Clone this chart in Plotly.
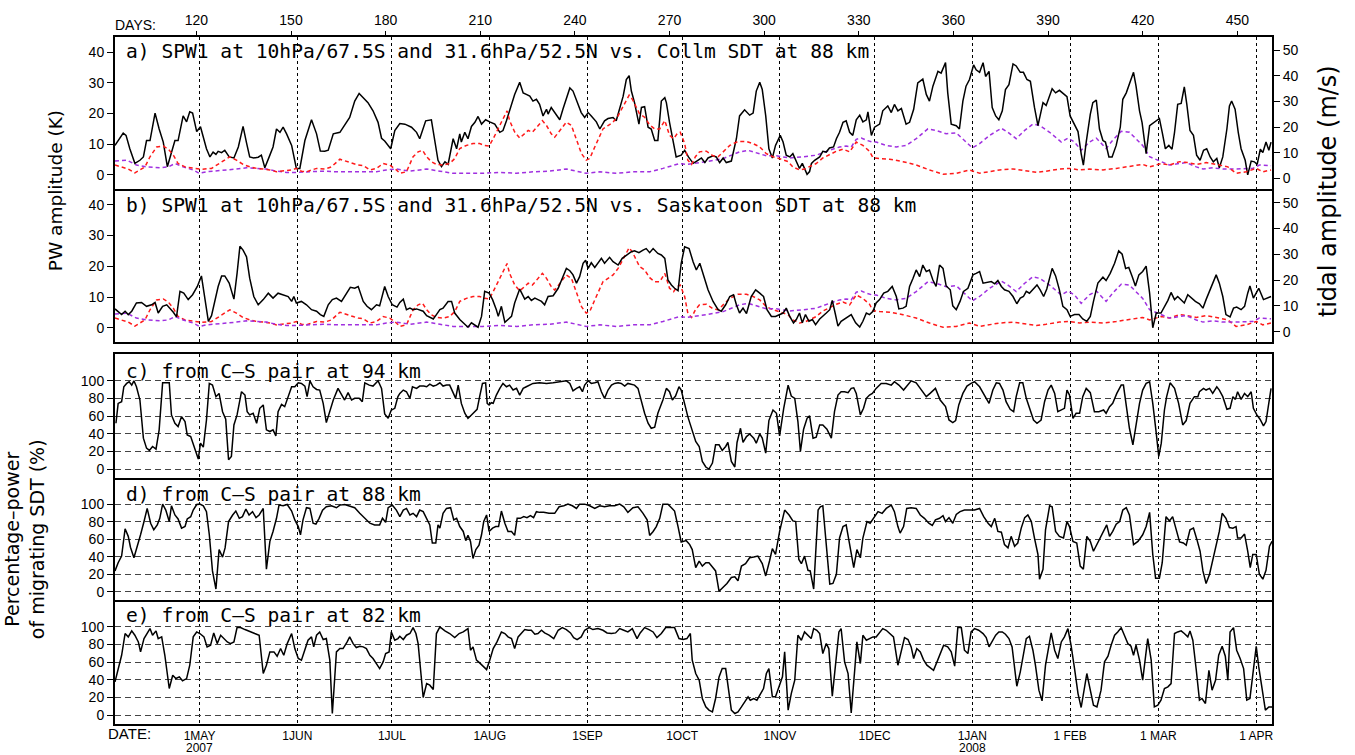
import plotly.graph_objects as go

# ---------------- data ----------------
month_days = [121, 152, 182, 213, 244, 274, 305, 335, 366, 397, 425, 456]
month_labels = ["1MAY", "1JUN", "1JUL", "1AUG", "1SEP", "1OCT", "1NOV", "1DEC",
                "1JAN", "1 FEB", "1 MAR", "1 APR"]
year_labels = [(121, "2007"), (366, "2008")]
day_ticks = [120, 150, 180, 210, 240, 270, 300, 330, 360, 390, 420, 450]
pct_ticks = [0, 20, 40, 60, 80, 100]
pw_ticks = [0, 10, 20, 30, 40]
tide_ticks = [0, 10, 20, 30, 40, 50]

# Collm SDT amplitude at 88 km (m/s), panel a
collm_sdt = [
    (94.2, 12.9), (96.8, 17.7), (97.7, 16.8), (98.9, 11.6), (100.5, 5.9), (102.1, 7.1), (103.2, 8.4),
    (104.2, 14.8), (105.3, 14.8), (106.9, 25.5), (108.2, 19.3), (109.5, 14.2), (110.8, 4.6), (112.1, 9.7),
    (113.2, 14.8), (114.2, 14.8), (115.8, 24.4), (116.9, 22.1), (117.9, 26.0), (118.8, 25.5), (120.1, 18.3),
    (121.3, 20.2), (123.2, 11.6), (124.3, 8.4), (125.3, 10.3), (126.2, 9.4), (126.9, 10.6), (128.0, 10.1),
    (129.0, 11.0), (130.4, 8.4), (131.9, 8.0), (133.3, 12.3), (134.8, 20.3), (135.9, 13.9), (136.9, 8.4),
    (138.2, 8.0), (139.6, 8.3), (140.6, 9.1), (141.7, 4.2), (143.3, 9.1), (144.3, 12.3), (145.4, 19.3),
    (146.5, 18.0), (147.5, 20.0), (148.6, 17.4), (150.2, 12.9), (151.7, 3.9), (152.8, 3.9), (154.4, 14.8),
    (156.5, 22.9), (158.1, 17.4), (159.3, 10.7), (160.7, 10.6), (161.8, 11.0), (163.4, 17.4), (165.5, 18.0),
    (168.6, 23.8), (170.2, 30.2), (171.6, 33.2), (172.9, 31.5), (174.4, 29.6), (176.0, 26.4), (177.6, 21.9),
    (178.7, 15.7), (179.7, 14.6), (181.6, 11.6), (182.9, 18.7), (184.5, 21.4), (186.1, 21.2), (188.2, 20.0),
    (189.8, 18.0), (190.8, 15.5), (192.7, 22.5), (194.5, 22.9), (196.6, 7.1), (197.7, 4.6), (198.8, 6.5),
    (199.8, 5.5), (201.4, 15.5), (202.5, 11.6), (203.5, 17.4), (204.0, 14.2), (205.1, 18.0), (206.1, 15.5),
    (207.2, 20.3), (208.3, 21.9), (209.3, 24.2), (210.4, 21.2), (211.7, 22.9), (213.0, 22.1), (214.6, 21.2),
    (216.2, 18.0), (217.2, 18.7), (218.3, 22.5), (219.9, 28.9), (220.9, 32.8), (222.5, 37.5), (223.6, 33.4),
    (224.6, 32.8), (225.7, 32.1), (226.7, 30.2), (227.8, 30.9), (228.8, 28.9), (229.9, 24.4), (231.0, 27.0),
    (231.5, 25.1), (232.5, 27.7), (233.6, 25.7), (235.2, 22.9), (236.2, 27.0), (237.3, 31.5), (238.4, 35.3),
    (239.4, 34.1), (240.5, 30.2), (242.0, 25.7), (243.1, 23.8), (244.2, 25.7), (245.2, 24.4), (246.8, 22.1),
    (247.9, 19.3), (249.4, 22.5), (250.5, 23.4), (252.1, 23.8), (253.1, 22.5), (254.2, 27.0), (255.3, 32.1),
    (256.3, 38.6), (257.2, 40.1), (257.9, 34.1), (258.9, 29.6), (260.3, 21.2), (261.1, 27.7), (262.1, 28.0),
    (263.2, 20.0), (264.2, 19.3), (265.3, 14.8), (266.3, 14.8), (267.4, 30.2), (268.5, 31.5), (269.0, 29.6),
    (270.0, 21.9), (271.1, 14.2), (272.1, 8.4), (273.7, 9.1), (274.8, 11.0), (276.0, 8.4), (277.5, 5.9),
    (279.0, 7.1), (280.1, 8.0), (281.2, 6.2), (282.2, 8.0), (283.8, 8.8), (284.8, 8.4), (285.9, 6.2),
    (287.0, 8.0), (288.0, 6.2), (289.6, 6.8), (291.2, 15.5), (292.2, 24.4), (293.8, 26.8), (295.4, 24.7),
    (296.5, 25.5), (297.5, 34.1), (298.6, 37.5), (299.4, 34.7), (300.5, 24.4), (301.5, 11.6), (302.6, 8.0),
    (303.6, 12.9), (305.1, 16.8), (306.0, 14.2), (307.0, 9.1), (308.1, 8.4), (309.1, 9.7), (310.2, 6.5),
    (311.2, 3.9), (312.1, 5.9), (312.8, 3.9), (313.6, 1.6), (314.4, 2.7), (315.0, 5.9), (316.0, 7.1),
    (317.6, 8.4), (318.6, 10.6), (319.7, 10.3), (320.7, 11.9), (322.0, 12.3), (322.9, 15.5), (323.9, 18.0),
    (325.0, 21.9), (326.0, 22.5), (327.1, 18.0), (328.1, 16.8), (329.2, 22.9), (330.3, 24.7), (331.3, 22.1),
    (332.4, 22.9), (332.9, 26.0), (334.0, 16.8), (335.0, 20.0), (336.6, 21.2), (337.6, 26.4), (339.2, 28.3),
    (340.3, 25.7), (341.3, 28.9), (342.4, 26.4), (343.5, 27.3), (345.0, 21.2), (346.1, 21.9), (347.4, 27.0),
    (348.7, 37.3), (350.3, 38.8), (351.4, 32.8), (352.4, 30.2), (353.5, 36.0), (355.1, 41.8), (356.1, 41.1),
    (357.5, 45.2), (358.2, 33.4), (359.3, 21.2), (360.9, 20.6), (361.9, 19.3), (363.0, 30.2), (364.0, 36.0),
    (365.1, 38.6), (366.4, 44.3), (367.2, 42.4), (368.3, 41.4), (369.4, 45.2), (370.2, 39.8), (371.3, 41.8),
    (372.3, 27.7), (373.4, 24.4), (374.4, 22.9), (375.5, 26.4), (376.5, 34.7), (377.6, 36.6), (378.9, 44.7),
    (379.9, 43.9), (381.2, 41.4), (382.2, 41.4), (383.3, 38.6), (384.4, 37.9), (385.7, 27.7), (386.8, 20.6),
    (388.4, 29.6), (389.4, 28.5), (391.3, 35.0), (392.4, 33.4), (393.6, 34.4), (394.7, 33.4), (396.0, 31.9),
    (397.0, 24.4), (398.4, 20.6), (399.5, 18.3), (400.5, 9.7), (401.2, 5.2), (402.1, 14.2), (403.4, 25.1),
    (404.2, 29.6), (405.3, 30.6), (406.3, 19.3), (407.4, 14.8), (408.2, 14.2), (409.3, 8.4), (410.3, 8.4),
    (411.6, 12.9), (412.9, 20.0), (413.7, 30.9), (414.8, 33.4), (415.8, 37.3), (417.1, 41.4), (417.9, 36.0),
    (419.0, 26.4), (419.8, 21.9), (421.1, 9.7), (422.2, 20.6), (423.2, 21.6), (424.3, 22.5), (425.3, 23.4),
    (426.2, 18.0), (427.2, 11.6), (428.3, 12.9), (429.3, 11.4), (430.1, 18.0), (431.1, 28.9), (432.2, 29.3),
    (433.2, 35.7), (434.0, 28.9), (435.0, 18.7), (436.1, 16.8), (437.1, 9.1), (438.2, 7.1), (439.3, 11.0),
    (440.3, 11.6), (441.4, 8.4), (442.4, 6.5), (443.5, 7.8), (444.3, 4.2), (445.4, 8.4), (446.7, 19.3),
    (447.5, 28.3), (448.2, 30.2), (449.3, 27.0), (450.3, 18.0), (451.2, 11.6), (452.5, 7.1), (453.3, 1.4),
    (454.4, 6.8), (455.4, 6.5), (456.3, 5.5), (457.3, 11.4), (458.1, 10.1), (459.1, 14.2), (460.0, 11.0),
    (460.7, 14.2),
]

# Saskatoon SDT amplitude at 88 km (m/s), panel b
sask_sdt = [
    (94.2, 8.8), (95.2, 7.9), (96.3, 6.6), (97.4, 7.9), (98.4, 6.6), (99.5, 7.9), (101.0, 11.1),
    (102.6, 11.3), (104.2, 9.8), (105.8, 10.4), (106.9, 11.3), (107.9, 7.2), (109.3, 9.8), (110.6, 10.4),
    (111.6, 9.1), (112.7, 7.5), (113.7, 5.7), (114.8, 15.6), (116.0, 14.9), (117.4, 12.4), (118.8, 14.3),
    (120.3, 17.5), (121.6, 21.6), (122.7, 13.6), (123.8, 4.0), (124.8, 6.2), (125.9, 12.4), (126.9, 17.5),
    (128.0, 21.6), (129.0, 21.6), (130.4, 18.8), (131.9, 12.6), (132.9, 22.6), (133.8, 33.1), (134.8, 31.6),
    (135.9, 29.0), (136.9, 20.7), (138.2, 13.6), (139.6, 10.4), (141.2, 12.4), (142.8, 14.9), (144.3, 13.0),
    (145.9, 14.9), (147.5, 14.3), (149.1, 13.6), (150.2, 11.7), (150.9, 13.6), (151.7, 11.1), (153.3, 11.7),
    (154.9, 10.4), (156.5, 8.5), (158.1, 7.9), (159.3, 6.6), (160.4, 5.9), (161.8, 10.4), (163.1, 12.4),
    (164.4, 13.0), (166.0, 11.7), (167.6, 14.9), (168.8, 17.2), (170.2, 16.8), (171.3, 17.5), (172.9, 11.7),
    (174.1, 9.8), (175.5, 8.5), (177.1, 10.4), (178.1, 10.0), (179.7, 17.5), (180.8, 13.6), (182.1, 10.4),
    (183.6, 9.5), (184.5, 11.3), (185.6, 12.6), (186.6, 8.5), (187.7, 9.1), (188.7, 8.5), (189.8, 8.8),
    (190.8, 8.5), (191.9, 7.9), (193.0, 6.2), (194.0, 5.7), (195.1, 4.9), (196.1, 6.6), (197.2, 8.5),
    (198.2, 9.1), (199.8, 11.7), (200.9, 11.7), (201.9, 7.2), (203.5, 4.7), (205.1, 2.7), (206.1, 1.7),
    (207.2, 3.4), (208.3, 2.4), (209.3, 1.7), (210.4, 5.9), (211.4, 15.6), (212.8, 14.9), (213.9, 12.4),
    (215.1, 8.5), (215.7, 5.9), (216.7, 9.8), (217.8, 3.6), (218.8, 4.7), (219.9, 5.9), (220.9, 11.1),
    (222.5, 16.5), (224.1, 12.6), (225.2, 13.6), (226.2, 12.1), (227.3, 13.0), (228.3, 12.4), (229.4, 11.7),
    (230.4, 10.4), (231.5, 13.6), (233.1, 13.9), (234.7, 16.8), (236.2, 21.3), (237.3, 24.5), (238.4, 23.6),
    (239.4, 22.0), (240.5, 18.8), (241.5, 21.3), (242.6, 26.5), (243.4, 27.7), (244.2, 24.5), (245.2, 26.7),
    (246.3, 24.9), (247.3, 26.5), (248.4, 28.4), (249.4, 26.5), (251.0, 28.8), (252.1, 27.1), (253.7, 25.8),
    (255.0, 28.4), (256.3, 29.7), (257.9, 31.0), (258.9, 31.3), (260.3, 30.6), (261.6, 31.6), (262.6, 32.2),
    (263.7, 30.6), (264.8, 32.2), (266.3, 30.3), (267.4, 29.7), (268.5, 28.4), (269.5, 20.0), (270.6, 18.1),
    (271.6, 16.8), (272.7, 15.9), (273.7, 26.5), (274.8, 32.9), (276.2, 32.2), (277.5, 27.0), (278.5, 23.9),
    (279.6, 26.5), (280.8, 22.0), (282.2, 16.2), (283.8, 11.7), (285.4, 8.5), (286.4, 7.9), (287.8, 10.4),
    (289.1, 13.6), (290.3, 14.3), (291.2, 10.4), (292.2, 7.2), (293.3, 9.1), (294.4, 7.0), (295.9, 13.6),
    (297.3, 16.2), (298.6, 14.9), (299.8, 13.6), (300.9, 8.5), (302.3, 5.9), (303.6, 5.9), (304.9, 6.6),
    (306.0, 7.2), (307.0, 9.1), (308.1, 5.9), (309.3, 3.4), (310.2, 4.7), (311.2, 7.2), (312.1, 3.4),
    (313.1, 6.6), (314.2, 4.0), (315.3, 4.7), (316.3, 2.7), (317.6, 4.9), (318.6, 5.9), (319.7, 7.2),
    (320.8, 8.5), (321.6, 12.1), (322.5, 7.2), (323.4, 2.1), (324.4, 4.0), (326.0, 5.2), (327.6, 6.6),
    (329.0, 3.4), (330.3, 1.8), (331.3, 4.0), (332.4, 7.2), (333.4, 6.6), (334.5, 7.9), (335.5, 11.1),
    (336.6, 12.4), (337.9, 14.9), (339.2, 15.6), (340.6, 17.5), (341.9, 13.6), (342.7, 8.8), (344.0, 9.1),
    (345.0, 9.8), (346.1, 17.5), (347.2, 20.7), (348.2, 23.9), (349.3, 21.3), (350.3, 25.8), (351.4, 23.3),
    (352.4, 23.9), (353.5, 20.0), (354.5, 17.5), (355.6, 25.8), (356.7, 24.5), (357.7, 17.7), (359.0, 16.2),
    (359.8, 10.0), (360.9, 8.5), (362.1, 11.7), (363.2, 15.6), (364.6, 16.8), (366.2, 22.0), (367.2, 22.6),
    (368.3, 23.3), (369.4, 18.8), (370.9, 19.0), (372.0, 19.4), (373.1, 18.5), (374.1, 19.8), (375.2, 17.5),
    (376.2, 16.2), (377.6, 15.6), (378.9, 13.6), (380.1, 10.8), (381.2, 13.0), (382.2, 13.6), (383.1, 15.6),
    (384.1, 14.9), (385.2, 16.2), (386.5, 18.1), (387.5, 16.2), (388.6, 13.6), (389.6, 16.5), (391.3, 24.5),
    (392.4, 21.6), (393.6, 16.2), (394.7, 9.8), (396.0, 8.5), (397.0, 5.9), (398.4, 6.6), (399.8, 6.6),
    (401.0, 4.9), (402.3, 4.0), (403.4, 5.9), (404.4, 11.7), (405.8, 18.8), (407.4, 21.1), (408.4, 19.8),
    (409.7, 22.6), (411.1, 26.5), (412.4, 31.3), (413.5, 30.0), (414.6, 24.5), (415.6, 24.9), (416.7, 21.3),
    (417.7, 17.7), (418.8, 22.0), (420.0, 23.3), (421.1, 25.4), (422.2, 14.9), (423.2, 1.5), (424.3, 7.2),
    (425.8, 7.2), (426.9, 9.8), (428.0, 12.1), (429.0, 15.2), (430.1, 12.4), (431.1, 13.6), (432.2, 12.4),
    (433.2, 11.1), (434.3, 14.3), (435.4, 13.0), (436.7, 11.7), (438.0, 10.8), (439.1, 9.1), (440.1, 12.4),
    (441.7, 17.5), (443.3, 22.0), (444.3, 18.8), (445.4, 13.6), (446.4, 6.6), (447.7, 5.7), (448.8, 9.1),
    (449.8, 9.5), (451.2, 8.5), (452.3, 9.8), (453.3, 14.9), (454.0, 17.7), (455.1, 13.0), (456.8, 16.8),
    (458.3, 12.4), (459.6, 13.0), (460.7, 13.6),
]

# SPW1 amplitude at 10hPa/67.5S (K), red
spw1_south = [
    (94.2, 3.2), (96.3, 2.6), (98.4, 1.9), (100.5, 0.6), (102.1, 1.6), (103.7, 2.6), (105.3, 5.9),
    (107.4, 9.1), (109.5, 9.4), (111.1, 8.4), (112.7, 6.4), (114.2, 3.7), (116.4, 2.6), (119.0, 2.1),
    (121.6, 1.8), (124.8, 2.1), (127.4, 3.7), (130.6, 5.9), (132.7, 4.8), (134.8, 3.4), (137.0, 2.6),
    (139.1, 2.1), (141.2, 1.9), (143.3, 1.6), (145.4, 1.0), (147.5, 1.2), (150.2, 1.6), (151.7, 2.1),
    (153.3, 1.2), (154.9, 1.0), (158.1, 2.1), (160.7, 1.9), (162.8, 2.6), (165.5, 5.1), (167.6, 4.3),
    (169.7, 3.7), (171.3, 3.2), (172.9, 3.0), (175.0, 1.6), (177.1, 2.1), (179.2, 3.7), (181.3, 3.2),
    (183.4, 1.6), (184.5, 0.5), (186.6, 1.0), (188.7, 5.9), (190.3, 7.5), (191.7, 8.0), (193.0, 5.9),
    (194.5, 4.3), (196.1, 3.4), (198.2, 3.2), (200.3, 3.7), (201.9, 5.3), (203.5, 8.6), (205.6, 9.6),
    (207.7, 10.2), (209.8, 10.2), (211.4, 9.6), (212.8, 9.4), (214.1, 11.8), (215.7, 15.0), (217.2, 18.0),
    (218.5, 20.9), (219.3, 17.7), (220.9, 14.0), (222.5, 12.0), (224.1, 13.4), (225.2, 14.5), (226.5, 13.9),
    (227.8, 15.5), (229.7, 17.7), (231.0, 16.1), (232.5, 13.4), (233.6, 12.3), (235.2, 14.5), (237.3, 17.2),
    (238.9, 16.1), (240.5, 11.8), (242.1, 6.9), (243.6, 4.8), (244.7, 5.3), (246.3, 9.1), (247.9, 12.9),
    (248.9, 15.0), (250.5, 16.1), (252.1, 17.2), (253.7, 19.3), (255.2, 22.0), (257.2, 26.0), (258.2, 24.7),
    (259.5, 22.0), (260.5, 19.9), (262.1, 18.8), (263.7, 16.3), (265.3, 15.0), (266.9, 15.0), (268.5, 17.7),
    (270.0, 12.9), (271.3, 11.8), (272.4, 13.4), (273.4, 13.9), (274.8, 10.2), (275.8, 4.8), (277.0, 3.4),
    (278.2, 5.9), (279.5, 7.5), (281.7, 7.7), (283.8, 6.2), (285.4, 5.9), (287.0, 7.5), (289.1, 9.6),
    (291.7, 10.9), (294.4, 10.9), (296.5, 10.2), (298.6, 9.1), (300.7, 6.9), (302.8, 5.9), (305.4, 5.1),
    (307.6, 4.3), (309.1, 2.6), (311.2, 1.6), (312.8, 1.9), (314.4, 2.6), (316.5, 3.7), (318.6, 5.5),
    (320.7, 6.6), (322.9, 7.7), (325.0, 8.4), (327.1, 7.5), (329.2, 10.7), (331.3, 9.6), (333.4, 7.7),
    (334.5, 5.6), (336.6, 5.3), (339.8, 5.1), (344.0, 4.3), (348.2, 3.2), (352.4, 1.6), (356.7, 0.2),
    (360.9, 0.5), (365.1, 1.6), (368.3, 0.5), (371.5, 1.0), (374.6, 1.6), (378.9, 1.9), (383.1, 1.2),
    (386.3, 0.8), (389.4, 1.2), (393.6, 1.9), (396.8, 2.1), (400.0, 1.6), (403.1, 1.9), (407.4, 1.6),
    (411.6, 2.1), (414.8, 2.6), (417.9, 3.2), (420.0, 3.4), (422.2, 2.6), (424.3, 3.2), (425.9, 3.7),
    (428.5, 3.2), (431.7, 4.3), (434.3, 4.0), (437.0, 3.4), (440.1, 4.0), (442.2, 3.7), (444.3, 3.2),
    (447.0, 2.6), (449.6, 0.5), (452.8, 1.0), (456.0, 2.1), (458.1, 1.0), (460.7, 1.6),
]

# SPW1 amplitude at 31.6hPa/52.5N (K), purple
spw1_north = [
    (94.2, 4.5), (97.9, 4.8), (101.0, 3.2), (104.2, 2.6), (108.4, 2.3), (111.1, 2.6), (113.2, 3.7),
    (115.8, 2.6), (119.0, 1.6), (120.9, 0.5), (123.2, 1.0), (126.4, 1.2), (129.6, 1.6), (132.7, 1.9),
    (135.9, 2.3), (139.1, 2.1), (142.2, 1.9), (145.4, 1.2), (148.6, 0.8), (151.7, 0.8), (156.0, 1.0),
    (160.2, 1.2), (164.4, 1.0), (168.6, 1.0), (172.9, 1.2), (177.1, 1.0), (180.2, 1.6), (183.4, 1.9),
    (187.7, 1.2), (193.0, 1.9), (197.2, 1.2), (201.4, 0.5), (205.6, 0.5), (210.9, 0.5), (216.2, 0.8),
    (221.5, 0.5), (226.7, 1.0), (232.0, 1.2), (237.3, 1.9), (240.5, 1.2), (243.6, 0.5), (247.9, 1.0),
    (253.1, 0.5), (258.4, 1.0), (263.7, 1.0), (267.9, 2.1), (271.1, 3.2), (273.2, 3.7), (275.3, 3.4),
    (281.7, 4.3), (287.0, 5.3), (292.2, 7.5), (294.9, 8.0), (297.5, 7.3), (300.7, 6.2), (303.9, 6.2),
    (308.1, 5.5), (312.3, 5.9), (316.5, 6.4), (320.7, 8.0), (323.9, 9.1), (326.0, 9.4), (327.6, 9.1),
    (329.2, 11.6), (330.8, 12.0), (332.4, 11.3), (334.3, 10.7), (335.5, 10.7), (338.7, 9.6), (341.9, 9.1),
    (345.0, 9.6), (348.2, 11.8), (351.9, 15.0), (354.5, 14.5), (357.7, 13.4), (360.9, 13.7), (364.0, 10.7),
    (366.0, 8.8), (368.3, 10.2), (371.5, 12.9), (375.2, 15.2), (377.3, 13.9), (379.9, 11.8), (382.6, 14.5),
    (385.2, 16.6), (387.3, 16.1), (390.5, 13.9), (394.2, 10.7), (396.3, 12.0), (398.4, 10.7), (400.5, 8.0),
    (403.1, 10.7), (405.3, 12.0), (408.4, 8.6), (410.5, 11.3), (413.2, 14.2), (415.8, 13.9), (418.5, 11.3),
    (420.0, 9.6), (422.2, 5.9), (425.3, 4.5), (428.5, 3.2), (431.7, 3.7), (433.8, 4.0), (437.0, 2.6),
    (439.1, 1.9), (442.2, 2.3), (445.4, 1.9), (448.6, 1.9), (451.7, 2.1), (454.9, 2.1), (457.0, 3.2),
    (460.7, 3.0),
]

# percentage power of migrating SDT (%), C-S pair at 94 km
pct_94km = [
    (94.5, 51.9), (95.2, 74.4), (96.3, 76.3), (97.0, 93.2), (97.9, 97.0), (98.7, 98.9), (99.5, 95.1),
    (100.2, 100.0), (101.0, 93.2), (102.1, 78.2), (103.2, 35.0), (104.2, 23.7), (105.1, 21.1), (106.1, 25.6),
    (107.2, 22.6), (108.2, 44.4), (109.3, 97.7), (110.3, 97.7), (111.4, 97.7), (112.1, 61.3), (113.2, 51.9),
    (114.2, 48.1), (115.3, 59.4), (116.4, 53.8), (117.1, 38.7), (118.2, 36.8), (119.0, 29.3), (119.8, 19.9),
    (120.6, 11.3), (121.3, 29.3), (122.2, 24.8), (123.2, 55.6), (124.1, 97.0), (125.1, 95.1), (126.2, 82.0),
    (127.2, 85.7), (128.3, 65.0), (129.3, 56.4), (130.2, 10.5), (131.1, 14.3), (131.9, 50.0), (132.9, 61.3),
    (134.3, 87.6), (135.4, 83.8), (136.1, 65.0), (136.9, 61.3), (138.0, 63.2), (139.1, 51.9), (140.1, 68.8),
    (141.2, 72.6), (142.2, 44.4), (143.3, 42.5), (144.3, 44.4), (145.2, 37.6), (145.9, 65.0), (147.0, 73.3),
    (148.0, 70.7), (149.1, 82.0), (150.2, 93.2), (151.2, 93.2), (152.3, 97.7), (153.3, 97.0), (154.4, 94.0),
    (155.1, 82.0), (156.0, 100.0), (157.0, 93.2), (158.1, 90.2), (159.1, 89.5), (160.2, 74.4), (161.2, 52.6),
    (162.3, 65.0), (163.4, 78.2), (164.9, 91.4), (166.0, 83.8), (167.0, 78.2), (168.1, 86.5), (169.2, 78.2),
    (170.2, 80.1), (171.6, 80.1), (172.6, 76.3), (173.4, 97.7), (174.8, 95.1), (176.0, 94.0), (177.6, 100.0),
    (178.7, 91.4), (179.7, 62.4), (180.8, 57.5), (181.8, 66.9), (182.9, 68.8), (183.9, 82.0), (184.5, 85.7),
    (185.6, 89.5), (186.6, 87.6), (187.7, 80.1), (188.5, 93.2), (189.8, 91.4), (190.8, 94.0), (192.1, 94.0),
    (193.0, 93.2), (194.0, 96.2), (195.1, 94.0), (196.1, 95.1), (197.2, 97.7), (198.2, 94.0), (199.3, 95.1),
    (200.3, 95.1), (201.4, 85.7), (202.2, 80.1), (203.0, 95.1), (204.0, 74.4), (205.1, 63.2), (206.1, 57.5),
    (207.2, 61.3), (208.3, 65.0), (209.0, 67.7), (209.8, 82.0), (210.7, 97.0), (211.7, 97.7), (212.2, 74.4),
    (212.8, 72.6), (213.5, 75.2), (214.1, 74.4), (215.1, 83.8), (216.2, 91.4), (217.2, 97.0), (218.3, 93.2),
    (219.3, 95.1), (220.4, 89.5), (221.5, 91.4), (222.5, 83.8), (223.6, 91.4), (224.6, 93.2), (225.7, 95.1),
    (226.7, 97.0), (228.8, 97.7), (231.0, 97.0), (233.1, 97.7), (235.2, 98.9), (237.3, 100.0), (238.4, 97.0),
    (239.4, 88.7), (240.5, 91.4), (241.5, 93.2), (242.4, 87.6), (243.1, 95.1), (244.2, 100.0), (245.2, 97.0),
    (246.3, 97.7), (247.3, 98.9), (248.4, 87.6), (249.4, 80.1), (250.5, 89.5), (251.6, 95.1), (252.6, 97.0),
    (253.7, 97.7), (254.7, 97.0), (255.8, 94.0), (256.8, 97.0), (257.9, 96.2), (258.9, 95.1), (260.0, 91.4),
    (261.1, 76.3), (262.1, 63.2), (263.2, 51.9), (264.2, 46.2), (265.3, 47.4), (266.3, 63.2), (267.9, 78.2),
    (269.0, 91.4), (270.0, 87.6), (270.9, 78.2), (271.9, 82.7), (273.0, 93.2), (273.7, 89.5), (274.8, 72.6),
    (275.8, 59.4), (276.4, 52.6), (277.2, 44.4), (278.3, 31.2), (279.4, 25.6), (280.4, 8.6), (281.5, 2.3),
    (282.5, 0.0), (283.6, 6.8), (284.6, 27.4), (285.7, 27.4), (286.7, 21.1), (287.8, 25.6), (288.5, 30.1),
    (289.6, 8.6), (290.7, 2.3), (291.4, 30.1), (292.5, 46.2), (293.3, 30.1), (294.4, 36.8), (295.4, 39.8),
    (296.7, 35.0), (297.5, 29.3), (298.6, 39.8), (299.4, 35.0), (300.5, 18.0), (301.5, 54.9), (302.8, 66.9),
    (303.9, 63.2), (304.9, 37.6), (306.2, 68.8), (307.6, 95.1), (308.6, 82.7), (309.7, 80.1), (310.7, 53.8),
    (311.5, 19.9), (312.5, 45.1), (313.6, 57.5), (314.4, 60.2), (315.5, 35.0), (316.5, 36.1), (317.6, 50.0),
    (318.6, 50.0), (319.9, 45.1), (321.3, 35.0), (322.3, 65.0), (323.4, 83.8), (324.4, 87.6), (325.5, 87.6),
    (326.6, 86.5), (327.6, 91.4), (328.4, 92.1), (329.2, 85.7), (330.5, 61.3), (331.5, 68.8), (332.4, 80.1),
    (333.4, 83.8), (334.3, 85.7), (335.5, 91.4), (337.1, 97.0), (338.7, 97.0), (340.3, 95.1), (341.3, 98.9),
    (342.7, 95.1), (344.2, 89.5), (345.6, 95.1), (346.6, 100.0), (348.2, 97.7), (349.5, 91.4), (351.4, 82.0),
    (352.6, 85.7), (354.3, 91.4), (355.8, 78.2), (357.5, 70.7), (358.6, 55.6), (359.8, 52.6), (360.7, 54.9),
    (361.7, 72.6), (363.0, 85.7), (364.3, 94.0), (365.6, 97.0), (366.7, 98.9), (368.3, 93.2), (369.9, 83.8),
    (371.3, 74.4), (372.5, 89.5), (373.6, 97.7), (374.6, 97.0), (375.7, 89.5), (376.7, 76.3), (378.0, 67.7),
    (379.1, 65.0), (379.9, 82.0), (381.0, 97.7), (382.0, 97.7), (383.1, 80.1), (384.1, 68.8), (385.4, 55.6),
    (386.5, 51.9), (387.8, 55.6), (388.9, 76.3), (390.0, 89.5), (391.0, 95.1), (392.1, 85.7), (393.1, 65.0),
    (394.2, 66.9), (395.2, 68.8), (396.0, 89.5), (396.8, 83.8), (397.9, 57.5), (398.9, 63.2), (400.0, 63.2),
    (401.0, 82.0), (402.1, 91.4), (403.4, 86.5), (404.7, 65.0), (406.1, 65.0), (407.6, 66.9), (408.4, 63.2),
    (409.5, 70.7), (410.5, 74.4), (411.8, 85.7), (413.2, 95.1), (413.9, 95.1), (414.8, 74.4), (415.8, 46.2),
    (416.9, 27.4), (417.9, 48.1), (419.0, 74.4), (420.0, 89.5), (421.1, 97.0), (422.2, 98.9), (423.2, 74.4),
    (424.3, 40.6), (425.1, 14.3), (425.9, 29.3), (426.9, 66.9), (427.6, 82.0), (428.7, 97.7), (430.1, 91.4),
    (431.4, 74.4), (432.7, 50.0), (433.8, 54.9), (435.0, 74.4), (436.4, 82.0), (437.5, 82.0), (438.0, 87.6),
    (439.3, 91.4), (440.1, 89.5), (441.2, 91.4), (442.2, 85.7), (443.5, 93.2), (444.3, 89.5), (445.4, 82.0),
    (446.7, 67.7), (447.7, 68.8), (448.6, 82.0), (449.4, 78.9), (450.1, 87.6), (451.2, 78.9), (452.3, 85.7),
    (453.3, 82.0), (454.4, 87.6), (455.1, 68.8), (456.2, 61.3), (457.2, 56.4), (458.3, 48.9), (459.1, 53.8),
    (460.0, 76.3), (460.7, 91.4),
]

# percentage power of migrating SDT (%), C-S pair at 88 km
pct_88km = [
    (94.2, 23.7), (95.2, 33.1), (96.3, 40.6), (97.4, 71.8), (98.4, 63.2), (99.1, 50.8), (100.2, 38.7),
    (101.3, 51.9), (102.3, 65.0), (103.4, 80.1), (104.4, 95.1), (105.5, 78.2), (106.5, 70.7), (107.6, 76.3),
    (108.4, 83.8), (109.3, 100.0), (110.3, 93.2), (111.4, 80.1), (112.1, 98.1), (113.2, 87.6), (114.2, 83.1),
    (115.3, 72.6), (116.4, 74.4), (117.1, 83.1), (118.2, 85.7), (119.0, 93.2), (120.1, 99.6), (121.1, 100.0),
    (122.2, 98.1), (123.2, 91.4), (124.1, 65.0), (125.1, 23.7), (126.2, 3.0), (127.2, 48.1), (128.3, 39.5),
    (129.1, 50.0), (130.2, 80.1), (131.5, 87.6), (132.5, 92.1), (133.6, 83.8), (134.6, 85.7), (135.7, 94.4),
    (136.7, 87.6), (137.8, 91.4), (138.9, 84.6), (139.9, 87.6), (141.2, 95.1), (142.2, 25.6), (143.3, 57.5),
    (144.3, 68.8), (145.4, 83.8), (146.2, 98.9), (147.5, 98.1), (148.8, 99.6), (150.2, 92.1), (151.2, 82.0),
    (152.3, 74.4), (153.0, 65.0), (153.8, 82.0), (154.9, 95.9), (156.0, 95.1), (157.0, 78.2), (157.9, 77.1),
    (158.9, 83.8), (160.0, 93.2), (161.2, 97.0), (162.8, 98.1), (164.4, 95.9), (165.5, 98.9), (167.0, 99.6),
    (168.6, 98.1), (170.2, 95.9), (171.8, 89.5), (173.4, 83.8), (175.0, 78.2), (176.5, 76.3), (178.1, 76.3),
    (179.0, 83.8), (180.0, 79.3), (180.8, 95.9), (182.1, 98.9), (183.4, 93.2), (184.5, 85.7), (185.6, 93.2),
    (186.6, 95.1), (187.7, 87.6), (188.7, 89.5), (189.8, 85.7), (190.8, 93.2), (191.9, 91.4), (193.0, 83.8),
    (194.0, 76.3), (194.8, 55.6), (195.9, 55.6), (196.6, 76.3), (197.2, 72.6), (198.2, 89.5), (199.3, 95.1),
    (200.6, 95.9), (201.6, 82.0), (202.5, 83.8), (203.5, 74.4), (204.6, 68.8), (205.4, 58.3), (206.1, 64.3),
    (206.9, 57.5), (207.7, 38.0), (208.6, 48.1), (209.6, 53.0), (210.4, 65.0), (211.1, 80.1), (212.0, 87.6),
    (212.8, 68.8), (213.9, 72.6), (214.9, 74.4), (215.8, 74.4), (216.7, 92.1), (217.8, 78.2), (218.8, 68.8),
    (219.9, 68.8), (220.9, 64.3), (221.7, 83.8), (222.7, 83.8), (223.8, 85.7), (224.8, 84.6), (225.9, 86.8),
    (226.9, 84.6), (227.8, 91.4), (228.8, 90.6), (230.1, 90.6), (231.8, 89.5), (233.6, 89.5), (235.0, 97.0),
    (236.5, 98.1), (237.8, 100.0), (239.2, 98.1), (240.5, 95.1), (241.5, 100.0), (243.1, 100.0), (244.7, 98.1),
    (246.3, 95.1), (247.9, 98.1), (249.4, 97.0), (251.0, 98.1), (252.6, 98.1), (254.2, 100.0), (255.5, 97.0),
    (256.8, 90.6), (258.4, 95.9), (260.0, 97.0), (261.6, 89.5), (262.9, 82.0), (263.7, 64.3), (264.8, 68.8),
    (265.8, 74.4), (266.9, 83.8), (267.9, 100.0), (269.5, 100.0), (270.6, 95.9), (271.6, 92.1), (272.7, 74.4),
    (273.7, 56.8), (275.3, 58.3), (276.4, 53.8), (277.2, 48.1), (278.3, 27.4), (279.4, 35.0), (280.4, 29.3),
    (281.5, 33.1), (282.5, 33.1), (283.6, 28.2), (284.6, 23.7), (285.7, 0.4), (287.0, 4.9), (288.2, 9.4),
    (289.6, 16.2), (290.7, 16.9), (291.7, 12.4), (292.8, 29.3), (294.1, 32.0), (295.4, 38.7), (296.7, 39.5),
    (298.0, 40.6), (299.4, 32.0), (300.5, 18.0), (301.7, 35.0), (302.6, 49.2), (303.6, 42.5), (304.9, 68.8),
    (306.5, 93.2), (307.9, 87.6), (309.1, 80.8), (310.0, 80.1), (311.0, 36.8), (311.8, 32.0), (312.8, 40.6),
    (313.9, 24.4), (314.6, 23.7), (315.7, 3.0), (317.1, 93.2), (317.8, 97.0), (318.6, 98.1), (319.7, 51.9),
    (320.8, 8.6), (321.8, 9.4), (322.9, 19.9), (323.9, 61.3), (325.0, 74.4), (326.0, 76.3), (327.1, 53.8),
    (328.4, 27.4), (329.4, 48.1), (330.5, 38.7), (331.3, 61.3), (332.6, 80.1), (333.6, 78.2), (334.7, 84.6),
    (336.1, 91.4), (337.4, 89.5), (338.7, 95.1), (340.3, 98.9), (341.3, 91.4), (342.4, 74.4), (343.1, 66.9),
    (344.2, 74.4), (345.2, 95.1), (346.6, 95.9), (348.2, 95.1), (349.5, 87.6), (350.8, 83.8), (352.2, 78.2),
    (353.3, 75.6), (354.3, 82.0), (355.6, 83.8), (356.7, 86.8), (357.5, 80.1), (358.6, 84.6), (359.8, 78.2),
    (360.9, 88.3), (362.1, 91.4), (363.5, 93.2), (365.1, 93.2), (366.7, 93.2), (368.3, 95.1), (369.6, 85.7),
    (371.0, 78.2), (372.0, 74.4), (373.1, 83.8), (374.1, 68.8), (375.2, 68.0), (376.2, 53.8), (377.3, 50.0),
    (378.3, 63.2), (379.4, 51.9), (380.4, 55.6), (381.5, 72.6), (382.6, 84.6), (383.6, 87.6), (384.7, 80.1),
    (385.7, 61.3), (386.8, 42.5), (387.3, 14.3), (388.4, 25.6), (389.2, 70.7), (390.5, 98.1), (391.3, 97.0),
    (392.4, 68.8), (393.6, 63.2), (394.9, 61.3), (396.0, 80.1), (396.8, 74.4), (397.9, 57.5), (399.1, 55.6),
    (400.2, 29.3), (401.2, 25.6), (402.3, 63.2), (403.4, 57.5), (404.4, 46.2), (405.5, 53.8), (406.5, 61.3),
    (407.6, 68.8), (408.6, 76.3), (409.5, 63.2), (410.5, 68.8), (411.6, 77.1), (412.7, 80.1), (413.7, 93.2),
    (414.8, 95.9), (415.8, 87.6), (417.1, 53.8), (418.5, 57.5), (420.0, 65.0), (421.1, 74.4), (422.2, 90.6),
    (423.2, 42.5), (424.1, 15.4), (425.3, 15.4), (426.2, 33.1), (427.4, 85.7), (428.5, 80.8), (429.5, 85.7),
    (430.6, 72.6), (431.7, 56.8), (432.9, 55.6), (433.8, 53.0), (435.0, 70.7), (436.1, 72.6), (437.2, 59.4),
    (438.2, 46.2), (439.1, 23.7), (440.1, 9.4), (441.2, 19.9), (442.7, 42.5), (443.5, 53.8), (444.3, 68.8),
    (445.2, 89.5), (446.4, 83.8), (447.5, 73.3), (448.6, 72.6), (449.6, 74.4), (450.1, 61.3), (451.2, 61.3),
    (452.3, 65.8), (453.3, 46.2), (454.1, 27.4), (454.9, 42.5), (456.0, 42.5), (457.0, 19.9), (458.1, 14.3),
    (459.1, 24.4), (460.2, 51.9), (461.0, 57.5),
]

# percentage power of migrating SDT (%), C-S pair at 82 km
pct_82km = [
    (94.2, 37.7), (95.2, 52.8), (96.3, 67.9), (97.4, 92.5), (98.4, 88.7), (99.5, 95.5), (100.5, 90.6),
    (101.6, 83.0), (102.3, 71.7), (103.4, 86.8), (104.2, 91.7), (105.3, 98.1), (106.1, 90.6), (107.2, 95.5),
    (107.9, 86.8), (109.0, 88.7), (110.0, 67.9), (110.8, 47.2), (111.4, 30.2), (112.5, 45.3), (113.5, 41.5),
    (114.6, 43.4), (115.6, 38.9), (116.9, 41.5), (117.9, 56.6), (119.0, 88.7), (120.1, 94.3), (121.1, 92.5),
    (122.4, 88.7), (123.4, 77.4), (124.5, 79.2), (125.5, 93.2), (126.6, 81.1), (127.7, 90.6), (128.7, 86.8),
    (129.8, 83.0), (130.8, 81.1), (131.9, 83.0), (132.9, 99.2), (134.0, 99.2), (135.4, 97.0), (137.0, 94.3),
    (138.5, 92.5), (139.9, 90.6), (140.6, 62.3), (141.2, 47.2), (142.2, 56.6), (143.3, 71.7), (144.6, 71.7),
    (145.6, 66.8), (146.7, 75.5), (147.7, 67.9), (148.8, 81.1), (150.2, 92.5), (151.2, 75.5), (152.3, 64.2),
    (153.3, 62.3), (154.4, 75.5), (155.4, 84.9), (156.5, 88.7), (157.2, 77.4), (158.1, 90.6), (159.1, 94.3),
    (160.2, 85.7), (161.2, 86.8), (162.3, 62.3), (163.1, 1.9), (163.6, 28.3), (164.4, 71.7), (165.5, 75.5),
    (166.5, 75.5), (167.8, 83.0), (168.6, 88.7), (169.7, 81.1), (170.7, 76.6), (171.8, 78.1), (172.9, 77.4),
    (173.9, 75.5), (175.0, 67.9), (176.0, 64.2), (177.1, 58.5), (178.1, 52.8), (179.2, 60.4), (180.0, 69.8),
    (181.1, 71.7), (181.8, 94.3), (182.9, 84.9), (183.9, 86.8), (184.5, 89.4), (185.6, 85.7), (186.6, 90.6),
    (187.7, 92.5), (188.7, 99.2), (189.6, 92.5), (190.3, 81.1), (191.0, 56.6), (191.9, 20.0), (193.0, 35.8),
    (194.0, 34.0), (195.1, 29.1), (196.1, 92.5), (197.2, 100.0), (198.8, 95.5), (200.3, 92.5), (201.9, 87.9),
    (203.3, 92.5), (204.6, 94.3), (206.1, 98.1), (206.9, 73.6), (207.7, 77.4), (208.8, 62.3), (209.8, 59.2),
    (210.9, 55.5), (212.0, 51.7), (213.0, 62.3), (214.1, 75.5), (215.3, 83.0), (216.7, 94.3), (217.8, 92.5),
    (218.8, 88.7), (219.9, 86.8), (220.9, 75.5), (222.0, 88.7), (223.0, 92.5), (224.1, 97.0), (225.2, 96.2),
    (226.2, 96.2), (227.3, 91.7), (228.3, 92.5), (229.4, 96.2), (230.4, 93.2), (231.8, 90.6), (233.3, 86.8),
    (234.7, 96.2), (236.0, 99.2), (237.3, 97.0), (238.6, 93.2), (239.6, 87.9), (240.7, 85.7), (242.0, 88.7),
    (243.1, 96.2), (244.5, 99.2), (245.7, 97.0), (247.3, 98.1), (248.9, 96.2), (250.2, 93.2), (251.6, 92.5),
    (252.9, 93.2), (254.2, 98.1), (255.5, 96.2), (256.8, 94.3), (258.2, 98.1), (259.7, 86.8), (260.7, 93.2),
    (262.1, 99.2), (263.5, 97.0), (264.8, 94.3), (266.0, 87.9), (267.4, 92.5), (268.8, 99.2), (270.2, 99.2),
    (271.6, 99.2), (273.0, 86.8), (274.3, 85.7), (275.5, 86.8), (276.6, 92.5), (277.2, 62.3), (278.3, 47.2),
    (279.4, 39.6), (280.4, 18.9), (281.5, 9.4), (282.5, 5.7), (283.6, 3.8), (284.6, 18.9), (285.7, 43.4),
    (286.7, 52.8), (287.8, 52.8), (288.5, 32.1), (289.6, 5.7), (290.7, 1.9), (291.7, 3.8), (292.8, 9.4),
    (293.8, 15.1), (294.9, 20.8), (295.6, 17.0), (296.7, 18.9), (297.7, 17.0), (298.8, 24.5), (299.8, 30.2),
    (300.7, 47.2), (301.5, 52.8), (302.6, 20.8), (303.6, 20.8), (304.7, 32.1), (305.8, 43.4), (306.5, 71.7),
    (307.6, 5.7), (308.6, 24.5), (309.7, 39.6), (310.7, 90.6), (311.8, 84.9), (312.8, 94.3), (313.9, 90.6),
    (314.9, 86.8), (315.7, 98.1), (316.7, 96.2), (317.6, 92.5), (318.6, 69.8), (319.7, 81.1), (320.5, 75.5),
    (321.6, 21.5), (322.7, 62.3), (323.7, 94.3), (324.4, 98.1), (325.5, 60.4), (326.6, 47.2), (327.6, 2.6),
    (328.7, 50.9), (329.4, 83.0), (330.5, 58.5), (331.3, 90.6), (332.4, 84.9), (333.4, 86.8), (334.5, 88.7),
    (335.5, 88.7), (336.6, 93.2), (337.6, 98.1), (338.7, 96.2), (339.8, 92.5), (341.0, 88.7), (342.4, 56.6),
    (343.5, 71.7), (344.5, 87.9), (345.6, 85.7), (346.6, 77.4), (347.4, 64.2), (348.4, 75.5), (349.5, 71.7),
    (350.5, 63.0), (351.6, 56.6), (352.6, 54.0), (353.7, 50.9), (354.8, 60.4), (355.8, 69.8), (356.9, 79.2),
    (358.2, 77.4), (359.3, 71.7), (360.4, 55.5), (361.4, 99.2), (362.5, 99.2), (363.5, 73.6), (364.6, 69.8),
    (365.6, 94.3), (366.7, 98.1), (368.0, 96.2), (369.4, 92.5), (370.4, 87.9), (371.3, 77.4), (372.3, 83.0),
    (373.4, 90.6), (374.4, 94.3), (375.5, 94.3), (376.5, 91.7), (377.6, 86.8), (378.6, 77.4), (379.4, 56.6),
    (380.1, 32.8), (381.2, 49.1), (382.2, 69.8), (383.1, 86.8), (384.1, 89.4), (385.2, 73.6), (386.0, 56.6),
    (387.1, 28.3), (388.1, 16.2), (389.2, 56.6), (390.3, 79.2), (391.0, 93.2), (392.1, 73.6), (393.1, 64.2),
    (394.2, 83.0), (395.2, 88.7), (396.3, 98.1), (397.3, 79.2), (398.4, 52.8), (399.5, 24.5), (400.5, 8.7),
    (401.2, 24.5), (402.3, 47.2), (403.4, 28.3), (404.4, 11.3), (405.5, 9.4), (406.8, 28.3), (407.9, 60.4),
    (409.0, 66.8), (410.0, 79.2), (411.1, 90.6), (412.1, 94.3), (413.2, 99.2), (414.2, 90.6), (415.3, 81.1),
    (416.3, 78.1), (417.1, 67.9), (417.9, 79.2), (419.0, 62.3), (420.0, 39.6), (420.9, 67.9), (421.6, 86.8),
    (422.7, 62.3), (423.7, 9.4), (424.8, 11.3), (425.8, 17.0), (426.9, 30.2), (428.0, 32.1), (429.0, 35.8),
    (430.1, 92.5), (431.1, 94.3), (432.2, 95.5), (433.2, 92.5), (434.3, 88.7), (435.0, 95.5), (435.9, 84.9),
    (437.0, 50.9), (438.0, 17.0), (438.8, 18.9), (439.9, 13.2), (441.0, 50.9), (442.0, 28.3), (443.1, 39.6),
    (444.1, 67.9), (445.2, 78.1), (446.2, 66.8), (447.0, 39.6), (447.7, 94.3), (448.8, 99.2), (449.8, 73.6),
    (450.9, 64.2), (452.0, 52.8), (453.0, 17.0), (454.0, 18.9), (454.9, 45.3), (456.0, 78.1), (456.8, 54.7),
    (457.8, 32.1), (458.9, 5.7), (460.0, 9.4), (461.0, 9.4),
]

panel_titles = [
    "a) SPW1 at 10hPa/67.5S and 31.6hPa/52.5N vs. Collm SDT at 88 km",
    "b) SPW1 at 10hPa/67.5S and 31.6hPa/52.5N vs. Saskatoon SDT at 88 km",
    "c) from C\u2013S pair at 94 km",
    "d) from C\u2013S pair at 88 km",
    "e) from C\u2013S pair at 82 km",
]

# ---------------- figure ----------------
W, H = 1355, 755
ML, MR, MT, MB = 115, 83, 29, 31
PH = H - MT - MB
PW = W - ML - MR


def ydom(top_px, bot_px):
    return [(H - MB - bot_px) / PH, (H - MB - top_px) / PH]


dom_a = ydom(29, 183)
dom_b = ydom(183, 338)
dom_c = ydom(350, 475)
dom_d = ydom(475, 599)
dom_e = ydom(599, 724)

XR = [94.2, 461.0]
RED = "#ff1a1a"
PURPLE = "#a030e0"
TICKFONT = dict(family="Liberation Sans", size=14, color="black")
DATEFONT = dict(family="Liberation Sans Narrow, Liberation Sans", size=12, color="black")


def split(pairs):
    return [p[0] for p in pairs], [p[1] for p in pairs]


fig = go.Figure()


def add(pairs, xa, ya, color, dash, width=1.5):
    x, y = split(pairs)
    fig.add_trace(go.Scatter(x=x, y=y, xaxis=xa, yaxis=ya, mode="lines",
                             line=dict(color=color, width=width, dash=dash),
                             showlegend=False, hoverinfo="skip"))


# panel a (red drawn against the top DAYS axis, which shares the same range)
add(spw1_south, "x6", "y", RED, "4px,3px")
add(spw1_north, "x", "y", PURPLE, "4px,3px")
add(collm_sdt, "x", "y2", "black", "solid")
# panel b
add(spw1_south, "x2", "y3", RED, "4px,3px")
add(spw1_north, "x2", "y3", PURPLE, "4px,3px")
add(sask_sdt, "x2", "y4", "black", "solid")
# panels c-e
add(pct_94km, "x3", "y5", "black", "solid")
add(pct_88km, "x4", "y6", "black", "solid")
add(pct_82km, "x5", "y7", "black", "solid")

xbase = dict(range=XR, domain=[0, 1], tickvals=month_days, showgrid=True,
             gridcolor="black", griddash="3px,3px", gridwidth=1,
             showline=True, linecolor="black", linewidth=2, mirror=True,
             zeroline=False, showticklabels=False, ticks="")
ybase = dict(showline=True, linecolor="black", linewidth=2, mirror=True,
             zeroline=False, ticks="outside", ticklen=6, tickwidth=1,
             tickcolor="black", tickfont=TICKFONT, showgrid=False)
pwy = dict(ybase, range=[-4.7, 45.0], tickvals=pw_ticks)
tdy = dict(ybase, range=[-4.2, 55.2], tickvals=tide_ticks, side="right", mirror=False)
pcy = dict(ybase, range=[-10, 130], tickvals=pct_ticks, showgrid=True,
           gridcolor="#444444", griddash="6px,4px", gridwidth=1)

fig.update_layout(
    width=W, height=H, paper_bgcolor="white", plot_bgcolor="white",
    margin=dict(l=ML, r=MR, t=MT, b=MB), showlegend=False,
    xaxis=dict(xbase, anchor="y"),
    xaxis2=dict(xbase, anchor="y3", mirror=False),
    xaxis3=dict(xbase, anchor="y5"),
    xaxis4=dict(xbase, anchor="y6", mirror=False),
    xaxis5=dict(xbase, anchor="y7", mirror=False, showticklabels=True, ticktext=month_labels,
                ticks="", tickfont=DATEFONT),
    xaxis6=dict(range=XR, overlaying="x", side="top", anchor="y", tickvals=day_ticks,
                ticktext=[str(d) for d in day_ticks], ticks="outside", ticklen=5,
                tickcolor="black", showgrid=False, showline=False, zeroline=False,
                tickfont=TICKFONT),
    yaxis=dict(pwy, domain=dom_a, anchor="x"),
    yaxis2=dict(tdy, overlaying="y", anchor="x"),
    yaxis3=dict(pwy, domain=dom_b, anchor="x2"),
    yaxis4=dict(tdy, overlaying="y3", anchor="x2"),
    yaxis5=dict(pcy, domain=dom_c, anchor="x3"),
    yaxis6=dict(pcy, domain=dom_d, anchor="x4"),
    yaxis7=dict(pcy, domain=dom_e, anchor="x5"),
)


def px2x(px):
    return (px - ML) / PW


def px2y(py):
    return (H - MB - py) / PH


ann = []
title_y = [44, 199, 367, 492, 614]
for t, ty in zip(panel_titles, title_y):
    ann.append(dict(text=t, x=px2x(124), y=px2y(ty), xref="paper", yref="paper",
                    xanchor="left", yanchor="middle", showarrow=False,
                    font=dict(family="DejaVu Sans Mono", size=19.6, color="black")))
ann.append(dict(text="DAYS:", x=px2x(113), y=px2y(17), xref="paper", yref="paper",
                xanchor="left", yanchor="middle", showarrow=False, font=TICKFONT))
ann.append(dict(text="DATE:", x=px2x(106), y=px2y(734), xref="paper", yref="paper",
                xanchor="left", yanchor="middle", showarrow=False,
                font=dict(family="Liberation Sans", size=15, color="black")))
for d, lab in year_labels:
    ann.append(dict(text=lab, x=d, y=px2y(748), xref="x5", yref="paper",
                    xanchor="center", yanchor="middle", showarrow=False,
                    borderpad=0, font=DATEFONT))
ann.append(dict(text="PW amplitude (K)", x=px2x(55), y=px2y(185), xref="paper", yref="paper",
                textangle=-90, showarrow=False, xanchor="center", yanchor="middle",
                font=dict(family="DejaVu Sans", size=18.5, color="black")))
ann.append(dict(text="tidal amplitude (m/s)", x=px2x(1328), y=px2y(185), xref="paper", yref="paper",
                textangle=-90, showarrow=False, xanchor="center", yanchor="middle",
                font=dict(family="DejaVu Sans", size=24, color="black")))
ann.append(dict(text="Percentage\u2013power<br>of migrating SDT (%)", x=px2x(24), y=px2y(537),
                xref="paper", yref="paper", textangle=-90, showarrow=False,
                xanchor="center", yanchor="middle",
                font=dict(family="DejaVu Sans", size=19, color="black")))
fig.update_layout(annotations=ann)

fig.write_html("out.html", config={"displayModeBar": False},
               post_script="document.body.style.margin='0px';")
